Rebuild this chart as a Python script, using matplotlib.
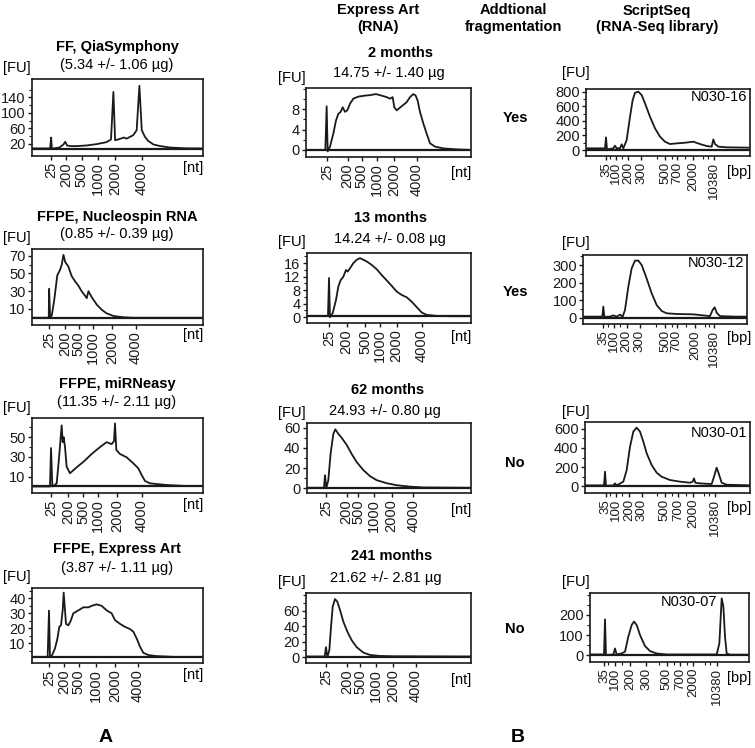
import matplotlib
matplotlib.use("Agg")
import matplotlib.pyplot as plt
from matplotlib.ticker import FixedLocator

plt.rcParams['font.family'] = ['Liberation Sans', 'DejaVu Sans']
plt.rcParams['font.size'] = 10.5

# ---------------- data ----------------
nt_labels = ['25', '200', '500', '1000', '2000', '4000']
bp_labels = ['35', '100', '200', '300', '500', '700', '2000', '10380']
# unlabelled ladder peaks: 50, 150, 400, 600, 1000, 3000, 7000 bp

# Column A: extraction methods (time [s], FU)
A1_time = [19.9, 25.3, 25.6, 25.8, 26.2, 28.0, 29.2, 29.7, 30.3, 31.5, 33.1, 36.0, 38.9, 41.8, 43.1,
           43.8, 44.3, 45.2, 46.2, 46.9, 47.7, 48.7, 49.6, 50.6, 51.4, 52.1, 53.0, 54.0, 55.5, 57.4,
           60.4, 65.2, 69.9]
A1_fu = [7.7, 7.7, 36, 7.7, 7.7, 10, 18, 25, 15, 13.7, 13.7, 15.4, 18.9, 24, 31,
         154, 29, 31, 34, 36, 33, 38, 42, 55, 170, 55, 38, 27, 18, 14,
         10, 8, 7.7]
A1_ladder = [25.6, 29.9, 34.6, 39.3, 44.3, 52.2]

A2_time = [19.9, 24.6, 24.9, 25.0, 25.3, 25.8, 26.5, 27.4, 28.2, 28.7, 29.2, 29.7, 30.6, 31.6, 32.6,
           33.6, 34.5, 35.5, 36.0, 36.5, 37.5, 38.9, 40.4, 41.8, 43.8, 46.7, 49.6, 69.9]
A2_fu = [0, 0, 0, 32.6, 0, 3, 20, 48, 54, 60, 71, 63, 58, 47, 41,
         36, 30, 25, 22, 30, 23, 15, 9, 5, 2, 0.5, 0, 0]
A2_ladder = [25.0, 29.6, 33.7, 37.8, 43.4, 50.4]

A3_time = [19.9, 25.26, 25.56, 25.95, 27.21, 27.8, 28.28, 28.67, 28.97, 29.26, 29.65, 30.13, 31.1,
           32.57, 35.01, 37.45, 39.88, 41.83, 43.29, 43.97, 44.27, 44.66, 45.73, 47.68, 49.63,
           51.09, 52.06, 53.04, 54.5, 59.38, 65.22, 69.9]
A3_fu = [0, 0, 39, 0, 3, 25, 45, 62, 45, 50, 40, 20, 13.4,
         18, 25, 33, 40, 45, 43, 46, 64, 37, 33, 29.6, 23.5,
         18.4, 11.7, 5.6, 3.2, 1.5, 0.5, 0.5]
A3_ladder = [25.6, 30.5, 34.9, 39.3, 44.9, 52.2]

A4_time = [19.9, 24.58, 24.97, 25.26, 25.75, 26.72, 27.41, 27.99, 28.48, 28.97, 29.26, 29.65, 29.94,
           30.62, 31.31, 32.08, 33.55, 35.01, 36.47, 37.45, 38.9, 40.37, 41.83, 43.29, 44.27, 45.73,
           47.19, 48.66, 49.63, 50.6, 51.58, 52.55, 54.01, 56.45, 61.33, 69.9]
A4_fu = [1, 1, 31.8, 1, 1.5, 6.6, 13, 21, 22, 32, 43.8, 32, 23,
         22, 25, 30, 32, 34, 34, 35, 36, 35, 32, 30, 25.5, 23,
         21, 19.5, 17.8, 13.3, 7.8, 3.7, 2.2, 1.5, 1, 1]
A4_ladder = [25.0, 29.4, 33.7, 38.7, 44.3, 51.0]

# Column B: Express Art RNA by storage time
B1_time = [20.0, 25.86, 26.26, 26.57, 27.27, 28.28, 29.09, 29.8, 30.5, 31.11, 31.82, 32.52, 33.33,
           34.34, 35.86, 37.88, 39.39, 41.21, 42.93, 44.44, 45.45, 46.26, 46.76, 47.47, 48.99, 50.5,
           51.51, 52.52, 53.23, 53.84, 54.54, 55.56, 56.57, 57.57, 59.09, 61.62, 65.66, 69.9]
B1_fu = [0, 0, 8.6, -0.3, 0.65, 3.2, 5.8, 7.1, 7.5, 8.4, 7.5, 7.8, 9.1,
         10.1, 10.5, 10.7, 10.8, 11.0, 10.7, 10.4, 10.1, 10.4, 8.4, 7.8, 8.6, 9.4,
         10.4, 11.0, 10.7, 9.7, 7.5, 5.2, 3.2, 1.3, 0.65, 0.3, 0.1, 0]
B1_ladder = [26.3, 32.6, 36.9, 41.4, 46.7, 53.5]

B2_time = [20.0, 26.49, 26.8, 27.1, 27.92, 28.93, 29.65, 30.36, 31.17, 31.98, 32.49, 33.2, 34.22,
           35.24, 36.25, 37.27, 38.29, 39.81, 41.34, 42.86, 44.39, 45.91, 47.43, 48.96, 50.48,
           52.01, 53.53, 55.06, 56.58, 59.63, 63.69, 69.99]
B2_fu = [0.4, 0.4, 11.6, 0, 1.2, 5.1, 9.1, 11, 12, 14, 13.5, 14.5, 16,
         17, 17.5, 17, 16.5, 15.5, 14.2, 12.5, 10.9, 9.3, 7.6, 6.6, 5.9,
         4.6, 3, 1.4, 0.7, 0.4, 0.3, 0.3]
B2_ladder = [26.8, 32.2, 37.8, 42.3, 47.4, 55.1]

B3_time = [20.0, 25.27, 25.58, 25.98, 26.59, 27.31, 28.12, 28.73, 29.64, 30.66, 32.19, 33.71,
           35.24, 37.27, 39.3, 41.34, 44.39, 47.44, 51.5, 55.56, 69.99]
B3_fu = [0.5, 0.5, 13, 0, 8, 35, 54, 58.4, 54, 50, 43, 34,
         26, 18, 12, 8, 5, 3, 1.6, 0.8, 0.5]
B3_ladder = [25.9, 32.2, 35.7, 40.5, 45.9, 52.5]

B4_time = [20.0, 25.67, 26.07, 26.48, 27.08, 27.59, 28.1, 28.8, 29.51, 30.32, 31.33, 32.55,
           33.86, 35.38, 37.41, 39.43, 42.47, 46.51, 69.99]
B4_fu = [1, 1, 13, 0, 9, 39, 65, 75, 71.6, 61, 46, 33,
         22, 13, 6, 3, 1.7, 1.3, 1]
B4_ladder = [26.1, 32.5, 36.4, 41.3, 46.5, 53.3]

# Column C: ScriptSeq libraries
C1_time = [20.0, 25.79, 26.1, 26.4, 28.33, 28.84, 29.35, 30.37, 30.88, 31.38, 32.4, 33.42, 34.23,
           34.94, 35.96, 36.97, 37.99, 39.51, 41.04, 42.56, 44.09, 45.61, 47.64, 50.18, 52.72,
           54.76, 56.79, 58.32, 58.82, 59.33, 60.35, 62.89, 70.0]
C1_fu = [23, 23, 174, 9, 23, 59, 23, 25, 78, 23, 137, 457, 686,
         786, 800, 754, 640, 457, 297, 183, 114, 82, 91, 100, 114,
         82, 55, 46, 146, 82, 46, 37, 32]
C1_ladder = [26.1, 29.1, 32.9, 36.8, 44.1, 47.7, 52.7, 59.0]
C1_ladder_minor = [27.3, 30.9, 41.5, 46.1, 50.2, 55.8, 57.3]

C2_time = [20.0, 25.82, 26.13, 26.43, 28.17, 29.19, 30.21, 31.23, 32.04, 32.76, 33.78, 34.8,
           35.82, 36.84, 37.86, 39.18, 40.92, 42.45, 43.98, 45.51, 48.57, 53.67, 56.73, 58.77,
           59.58, 60.2, 60.81, 61.83, 66.42, 70.0]
C2_fu = [6, 6, 63, 5, 6, 13, 6, 17, 6, 44, 177, 281,
         325, 325, 300, 234, 139, 72, 38, 25, 21, 19, 13, 9,
         44, 59, 28, 9, 6, 6]
C2_ladder = [26.1, 29.5, 33.3, 37.3, 45.0, 48.6, 54.2, 60.1]
C2_ladder_minor = [27.5, 31.3, 42.2, 47.0, 51.4, 57.1, 58.5]

C3_time = [20.0, 25.76, 26.06, 26.36, 28.58, 29.09, 29.6, 31.61, 32.63, 33.64, 34.64, 35.65,
           36.67, 37.67, 38.69, 40.2, 41.72, 43.23, 45.76, 48.79, 51.82, 52.62, 53.03, 53.43,
           54.85, 58.38, 59.09, 59.9, 60.5, 61.41, 62.93, 70.0]
C3_fu = [7, 7, 151, 3, 7, 28, 7, 46, 168, 414, 572, 614,
         572, 467, 344, 221, 140, 98, 63, 46, 35, 46, 81, 35,
         28, 21, 98, 193, 133, 35, 14, 7]
C3_ladder = [26.3, 29.4, 33.4, 37.2, 44.2, 48.3, 52.8, 59.4]
C3_ladder_minor = [27.5, 31.3, 41.7, 46.5, 50.6, 56.0, 57.6]

C4_time = [20.0, 24.39, 24.71, 25.02, 27.32, 27.85, 28.37, 29.94, 30.99, 32.03, 33.08, 33.81,
           34.65, 35.7, 37.26, 38.83, 40.93, 44.07, 59.76, 60.6, 61.33, 61.86, 62.38, 62.9,
           63.95, 70.0]
C4_fu = [3, 3, 178, 0, 3, 33, 3, 8, 17, 92, 150, 167,
         150, 100, 45, 20, 8, 3, 3, 58, 283, 242, 92, 8,
         2, 2]
C4_ladder = [24.5, 27.8, 32.6, 37.6, 44.1, 48.2, 52.4, 59.8]
C4_ladder_minor = [25.8, 30.1, 41.8, 46.4, 50.3, 56.0, 57.8]

A_titles = ['FF, QiaSymphony', 'FFPE, Nucleospin RNA', 'FFPE, miRNeasy', 'FFPE, Express Art']
A_yields = ['(5.34 +/- 1.06 µg)', '(0.85 +/- 0.39 µg)', '(11.35 +/- 2.11 µg)', '(3.87 +/- 1.11 µg)']
B_titles = ['2 months', '13 months', '62 months', '241 months']
B_yields = ['14.75 +/- 1.40 µg', '14.24 +/- 0.08 µg', '24.93 +/- 0.80 µg', '21.62 +/- 2.81 µg']
fragmentation = ['Yes', 'Yes', 'No', 'No']
C_samples = ['N030-16', 'N030-12', 'N030-01', 'N030-07']

# ---------------- figure ----------------
W, H = 755, 748
fig = plt.figure(figsize=(W / 100, H / 100), dpi=100)
INK = '#1a1a1a'


def fx(x):
    return x / W


def fy(y):
    return 1 - y / H


def add_panel(box, time, fu, ladder, labels, ylim, yticks, yminor, baseline,
              xminor=None, xlabel_size=10.5):
    l, r, t, b = box
    ax = fig.add_axes([fx(l), fy(b), (r - l) / W, (b - t) / H])
    ax.plot(time, fu, color=INK, lw=1.3, solid_joinstyle='round')
    ax.axhline(baseline, color=INK, lw=1.6)
    ax.set_xlim(20, 70)
    ax.set_ylim(*ylim)
    ax.set_xticks(ladder)
    ax.set_xticklabels(labels, rotation=90, fontsize=xlabel_size)
    if xminor:
        ax.xaxis.set_minor_locator(FixedLocator(xminor))
    ax.set_yticks(yticks)
    ax.set_yticklabels([str(v) for v in yticks], fontsize=10.5)
    ax.yaxis.set_minor_locator(FixedLocator(yminor))
    ax.tick_params(axis='both', which='major', direction='out', length=3, width=1, pad=1.5,
                   colors=INK)
    ax.tick_params(axis='both', which='minor', direction='out', length=2, width=0.8, colors=INK)
    for s in ax.spines.values():
        s.set_linewidth(1.2)
        s.set_color(INK)
    return ax


A_boxes = [(32, 203, 79, 156), (32, 203, 249, 325), (32, 203, 418, 493), (32, 203, 588, 663)]
B_boxes = [(306, 471, 88, 157), (306.7, 470.7, 252.7, 323.3), (306.7, 470.7, 423.3, 493.3),
           (306, 470.7, 593.3, 662.7)]
C_boxes = [(586, 750, 89.3, 155.7), (583.3, 746.7, 255, 324), (585, 750, 422.3, 492.7),
           (590, 749.3, 593.3, 661.7)]

A_data = [(A1_time, A1_fu, A1_ladder), (A2_time, A2_fu, A2_ladder),
          (A3_time, A3_fu, A3_ladder), (A4_time, A4_fu, A4_ladder)]
B_data = [(B1_time, B1_fu, B1_ladder), (B2_time, B2_fu, B2_ladder),
          (B3_time, B3_fu, B3_ladder), (B4_time, B4_fu, B4_ladder)]
C_data = [(C1_time, C1_fu, C1_ladder, C1_ladder_minor), (C2_time, C2_fu, C2_ladder, C2_ladder_minor),
          (C3_time, C3_fu, C3_ladder, C3_ladder_minor), (C4_time, C4_fu, C4_ladder, C4_ladder_minor)]

A_ylim = [(-11.9, 187.6), (-8.2, 77.6), (-6.6, 69.5), (-3.1, 46.9)]
A_yt = [[20, 60, 100, 140], [10, 30, 50, 70], [10, 30, 50], [10, 20, 30, 40]]
A_ym = [[40, 80, 120, 160], [20, 40, 60], [20, 40, 60], [5, 15, 25, 35, 45]]
A_base = [7, 0, 0.5, 1]
B_ylim = [(-1.4, 12.2), (-1.8, 19.1), (-5, 64.4), (-7, 82.4)]
B_yt = [[0, 4, 8], [0, 4, 8, 12, 16], [0, 20, 40, 60], [0, 20, 40, 60]]
B_ym = [[2, 6, 10, 12], [2, 6, 10, 14, 18], [10, 30, 50], [10, 30, 50, 70, 80]]
B_base = [0, 0.3, 0, 0.5]
C_ylim = [(-78, 833), (-36, 357), (-70, 670), (-33, 308)]
C_yt = [[0, 200, 400, 600, 800], [0, 100, 200, 300], [0, 200, 400, 600], [0, 100, 200]]
C_ym = [[100, 300, 500, 700], [50, 150, 250, 350], [100, 300, 500], [50, 150, 250, 300]]
C_base = [0, 0, 0, 0]

A_title_y = [47, 217, 384, 549]
A_yield_y = [65, 234, 402, 568]
A_fu_y = [68, 238, 408, 577]
A_unit_y = [168, 335, 505, 675]
B_title_y = [53, 218, 390, 556]
B_title_x = [400, 391, 388, 392]
B_yield_y = [73, 239, 411, 578]
B_yield_x = [389, 390, 385, 386]
B_fu_y = [78, 242, 413, 582]
B_unit_y = [173, 337, 510, 680]
yes_y = [118, 292, 463, 629]
C_fu_y = [73, 243, 412, 582]
C_unit_y = [172, 338, 508, 678]
C_lab_pos = [(747, 97, 'right'), (744, 263, 'right'), (747, 433, 'right'), (689, 602, 'center')]

for i in range(4):
    tm, fu, lad = A_data[i]
    add_panel(A_boxes[i], tm, fu, lad, nt_labels, A_ylim[i], A_yt[i], A_ym[i], A_base[i])
    fig.text(fx(117), fy(A_title_y[i]), A_titles[i], ha='center', va='center',
             fontweight='bold', fontsize=10.5)
    fig.text(fx(117), fy(A_yield_y[i]), A_yields[i], ha='center', va='center', fontsize=10.5)
    fig.text(fx(3), fy(A_fu_y[i]), '[FU]', ha='left', va='center', fontsize=10.5)
    fig.text(fx(203), fy(A_unit_y[i]), '[nt]', ha='right', va='center', fontsize=10.5)

    tm, fu, lad = B_data[i]
    add_panel(B_boxes[i], tm, fu, lad, nt_labels, B_ylim[i], B_yt[i], B_ym[i], B_base[i])
    fig.text(fx(B_title_x[i]), fy(B_title_y[i]), B_titles[i], ha='center', va='center',
             fontweight='bold', fontsize=10.5)
    fig.text(fx(B_yield_x[i]), fy(B_yield_y[i]), B_yields[i], ha='center', va='center',
             fontsize=10.5)
    fig.text(fx(278), fy(B_fu_y[i]), '[FU]', ha='left', va='center', fontsize=10.5)
    fig.text(fx(471), fy(B_unit_y[i]), '[nt]', ha='right', va='center', fontsize=10.5)
    fig.text(fx(515), fy(yes_y[i]), fragmentation[i], ha='center', va='center',
             fontweight='bold', fontsize=10.5)

    tm, fu, lad, mnr = C_data[i]
    add_panel(C_boxes[i], tm, fu, lad, bp_labels, C_ylim[i], C_yt[i], C_ym[i], C_base[i],
              xminor=mnr, xlabel_size=9.5)
    fig.text(fx(562), fy(C_fu_y[i]), '[FU]', ha='left', va='center', fontsize=10.5)
    fig.text(fx(751), fy(C_unit_y[i]), '[bp]', ha='right', va='center', fontsize=10.5)
    lx, ly, lha = C_lab_pos[i]
    fig.text(fx(lx), fy(ly), C_samples[i], ha=lha, va='center', fontsize=10.5)

# column headers
fig.text(fx(378), fy(10), 'Express Art', ha='center', va='center', fontweight='bold', fontsize=10.5)
fig.text(fx(378), fy(27), '(RNA)', ha='center', va='center', fontweight='bold', fontsize=10.5)
fig.text(fx(513), fy(10), 'Addtional', ha='center', va='center', fontweight='bold', fontsize=10.5)
fig.text(fx(513), fy(27), 'fragmentation', ha='center', va='center', fontweight='bold', fontsize=10.5)
fig.text(fx(657), fy(11), 'ScriptSeq', ha='center', va='center', fontweight='bold', fontsize=10.5)
fig.text(fx(657), fy(27), '(RNA-Seq library)', ha='center', va='center', fontweight='bold',
         fontsize=10.5)

fig.text(fx(106), fy(738), 'A', ha='center', va='center', fontweight='bold', fontsize=14)
fig.text(fx(518), fy(738), 'B', ha='center', va='center', fontweight='bold', fontsize=14)

fig.savefig('out.png', dpi=100)
